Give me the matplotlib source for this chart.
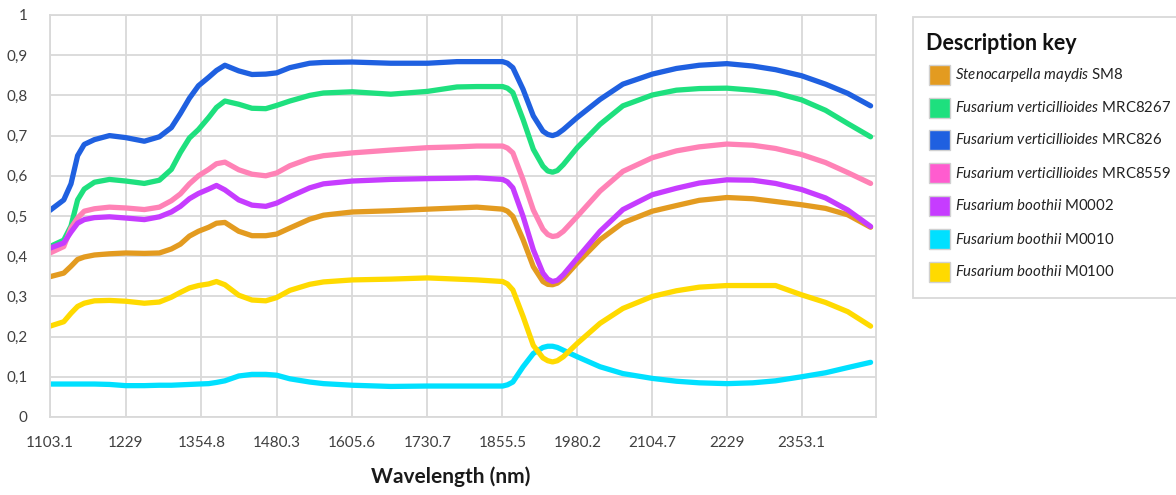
import matplotlib
matplotlib.use("Agg")
import matplotlib.pyplot as plt
from matplotlib.patches import Rectangle

plt.rcParams['font.family'] = ['Lato', 'DejaVu Sans']
plt.rcParams['mathtext.fontset'] = 'custom'
plt.rcParams['mathtext.it'] = 'Lato:italic'
plt.rcParams['mathtext.rm'] = 'Lato'

# Wavelength grid (nm)
wavelength = [1103, 1126, 1138, 1149, 1160, 1177, 1202, 1229, 1260, 1285, 1305, 1320,
              1335, 1350, 1367, 1380, 1394, 1417, 1439, 1462, 1480, 1502, 1535, 1558,
              1606, 1670, 1731, 1780, 1813, 1856, 1864, 1873, 1890, 1907, 1923, 1931,
              1939, 1947, 1957, 1980, 2018, 2056, 2105, 2145, 2183, 2229, 2272, 2310,
              2353, 2393, 2430, 2468]

sm8 = [0.349, 0.358, 0.375, 0.392, 0.398, 0.403, 0.406, 0.408, 0.407, 0.408, 0.418, 0.430,
       0.450, 0.462, 0.472, 0.482, 0.484, 0.462, 0.451, 0.451, 0.455, 0.470, 0.492, 0.502,
       0.510, 0.513, 0.517, 0.520, 0.522, 0.517, 0.512, 0.499, 0.441, 0.374, 0.337, 0.330,
       0.329, 0.333, 0.345, 0.383, 0.441, 0.483, 0.512, 0.526, 0.539, 0.546, 0.543, 0.536,
       0.528, 0.519, 0.503, 0.472]

mrc8267 = [0.424, 0.440, 0.475, 0.540, 0.567, 0.584, 0.591, 0.587, 0.581, 0.589, 0.616, 0.658,
           0.694, 0.715, 0.745, 0.770, 0.786, 0.778, 0.768, 0.767, 0.775, 0.786, 0.800, 0.806,
           0.809, 0.803, 0.810, 0.821, 0.822, 0.822, 0.818, 0.807, 0.740, 0.666, 0.624, 0.612,
           0.609, 0.613, 0.628, 0.670, 0.728, 0.774, 0.801, 0.813, 0.817, 0.818, 0.813, 0.806,
           0.789, 0.763, 0.730, 0.697]

mrc826 = [0.514, 0.540, 0.580, 0.650, 0.678, 0.690, 0.700, 0.695, 0.686, 0.697, 0.720, 0.755,
          0.793, 0.824, 0.845, 0.862, 0.875, 0.861, 0.852, 0.853, 0.856, 0.869, 0.880, 0.882,
          0.883, 0.880, 0.880, 0.884, 0.884, 0.884, 0.880, 0.869, 0.815, 0.749, 0.711, 0.703,
          0.700, 0.704, 0.715, 0.745, 0.790, 0.828, 0.853, 0.867, 0.875, 0.879, 0.873, 0.864,
          0.849, 0.828, 0.805, 0.774]

mrc8559 = [0.408, 0.424, 0.470, 0.495, 0.512, 0.518, 0.522, 0.520, 0.516, 0.522, 0.538, 0.555,
           0.580, 0.600, 0.616, 0.630, 0.634, 0.615, 0.604, 0.600, 0.607, 0.625, 0.643, 0.650,
           0.657, 0.664, 0.670, 0.672, 0.674, 0.674, 0.669, 0.657, 0.590, 0.515, 0.467, 0.454,
           0.449, 0.451, 0.462, 0.499, 0.562, 0.611, 0.645, 0.662, 0.672, 0.679, 0.676, 0.668,
           0.653, 0.633, 0.608, 0.581]

m0002 = [0.420, 0.433, 0.460, 0.482, 0.491, 0.496, 0.498, 0.495, 0.491, 0.498, 0.510, 0.524,
         0.543, 0.556, 0.567, 0.576, 0.565, 0.540, 0.527, 0.524, 0.532, 0.548, 0.570, 0.580,
         0.587, 0.591, 0.593, 0.594, 0.595, 0.591, 0.585, 0.570, 0.499, 0.416, 0.358, 0.343,
         0.337, 0.340, 0.354, 0.395, 0.462, 0.516, 0.553, 0.569, 0.582, 0.590, 0.589, 0.581,
         0.566, 0.545, 0.515, 0.474]

m0010 = [0.082, 0.082, 0.082, 0.082, 0.082, 0.082, 0.081, 0.078, 0.078, 0.079, 0.079, 0.080,
         0.081, 0.082, 0.083, 0.086, 0.090, 0.102, 0.106, 0.106, 0.104, 0.095, 0.087, 0.083,
         0.079, 0.076, 0.077, 0.077, 0.077, 0.077, 0.080, 0.087, 0.125, 0.158, 0.173, 0.176,
         0.176, 0.173, 0.166, 0.150, 0.125, 0.108, 0.096, 0.089, 0.085, 0.083, 0.085, 0.090,
         0.100, 0.110, 0.123, 0.136]

m0100 = [0.226, 0.237, 0.258, 0.275, 0.283, 0.289, 0.290, 0.288, 0.283, 0.286, 0.298, 0.310,
         0.321, 0.327, 0.331, 0.337, 0.329, 0.303, 0.291, 0.289, 0.297, 0.315, 0.330, 0.336,
         0.341, 0.343, 0.346, 0.343, 0.341, 0.337, 0.331, 0.316, 0.250, 0.178, 0.147, 0.140,
         0.137, 0.140, 0.150, 0.183, 0.233, 0.270, 0.300, 0.314, 0.323, 0.327, 0.327, 0.327,
         0.304, 0.285, 0.262, 0.226]

series = [sm8, mrc8267, mrc826, mrc8559, m0002, m0010, m0100]
species = ["Stenocarpella maydis", "Fusarium verticillioides", "Fusarium verticillioides",
           "Fusarium verticillioides", "Fusarium boothii", "Fusarium boothii", "Fusarium boothii"]
strains = ["SM8", "MRC8267", "MRC826", "MRC8559", "M0002", "M0010", "M0100"]
line_colors = ["#E39B20", "#1EE07E", "#1F60E0", "#FF82B6", "#C63CFF", "#00E0FF", "#FFDA00"]
key_colors = ["#E39B20", "#1EE07E", "#1F60E0", "#FF5CCF", "#C63CFF", "#00E0FF", "#FFDA00"]

x_ticks = [1103.1, 1229, 1354.8, 1480.3, 1605.6, 1730.7, 1855.5, 1980.2, 2104.7, 2229, 2353.1]
x_tick_labels = ["1103.1", "1229", "1354.8", "1480.3", "1605.6", "1730.7", "1855.5",
                 "1980.2", "2104.7", "2229", "2353.1"]
y_ticks = [0, 0.1, 0.2, 0.3, 0.4, 0.5, 0.6, 0.7, 0.8, 0.9, 1.0]
y_tick_labels = ["0", "0,1", "0,2", "0,3", "0,4", "0,5", "0,6", "0,7", "0,8", "0,9", "1"]

W, H = 1176, 495
fig = plt.figure(figsize=(W / 100, H / 100), dpi=100)


def fx(px):
    return px / W


def fy(py):
    return 1 - py / H


ax = fig.add_axes([fx(50), fy(417), fx(826), 402 / H])
grid_c = "#D9D9D9"
for yv in y_ticks:
    ax.axhline(yv, color=grid_c, lw=1.3, zorder=0)
for xv in x_ticks:
    ax.axvline(xv, color=grid_c, lw=1.3, zorder=0)

for vals, col in zip(series, line_colors):
    ax.plot(wavelength, vals, color=col, lw=3.8, solid_capstyle='round',
            solid_joinstyle='round', zorder=2)

ax.set_xlim(1103.1, 2477)
ax.set_ylim(0, 1)
ax.set_xticks(x_ticks)
ax.set_xticklabels(x_tick_labels)
ax.set_yticks(y_ticks)
ax.set_yticklabels(y_tick_labels)
ax.tick_params(axis='both', length=0, labelsize=11, colors="#404040")
ax.tick_params(axis='x', pad=14)
ax.tick_params(axis='y', pad=16)
for s in ax.spines.values():
    s.set_color(grid_c)
    s.set_linewidth(1.3)

fig.text(fx(451), fy(477), "Wavelength (nm)", ha='center', va='center',
         fontsize=15, fontweight='bold', color="#1a1a1a")

# Description key panel
fig.patches.append(Rectangle((fx(913), fy(298)), fx(W - 913 + 5), (298 - 17) / H,
                             transform=fig.transFigure, facecolor='white',
                             edgecolor="#D9D9D9", lw=1.3))
fig.text(fx(926), fy(43), "Description key", ha='left', va='center',
         fontsize=15.5, fontweight='bold', color="#111111")
row_y = [75, 108, 140, 173, 206, 239, 272]
for yy, col, sp, st in zip(row_y, key_colors, species, strains):
    fig.patches.append(Rectangle((fx(929), fy(yy + 10)), fx(21), 20 / H,
                                 transform=fig.transFigure, facecolor=col,
                                 edgecolor="#D0D0D0", lw=1.0))
    label = r"$\mathit{" + sp.replace(" ", r"\ ") + "}$ " + st
    fig.text(fx(955), fy(yy), label, ha='left', va='center', fontsize=10.8,
             color="#222222")

fig.savefig("out.png", dpi=100)
